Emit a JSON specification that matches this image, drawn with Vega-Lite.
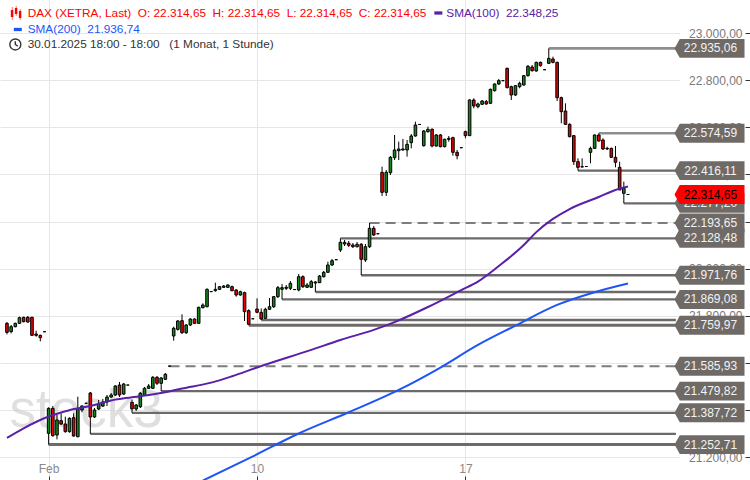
{
  "$schema": "https://vega.github.io/schema/vega-lite/v6.json",
  "width": 680,
  "height": 480,
  "autosize": {"type": "none"},
  "padding": {"left": 0, "top": 0, "right": 70, "bottom": 0},
  "background": "white",
  "config": {
    "view": {"stroke": null},
    "font": "Liberation Sans",
    "locale": {"number": {"decimal": ",", "thousands": ".", "grouping": [3], "currency": ["", " €"]}}
  },
  "resolve": {"axis": {"x": "independent", "y": "independent"}},
  "datasets": {
    "candles": [
      {"i":0,"o":21767.6,"h":21773.3,"l":21720.9,"c":21729.4},
      {"i":1,"o":21732.3,"h":21760.6,"l":21725.2,"c":21753.5},
      {"i":2,"o":21753.5,"h":21770.5,"l":21750.7,"c":21767.6},
      {"i":3,"o":21767.6,"h":21795.9,"l":21764.8,"c":21791.7},
      {"i":4,"o":21793.1,"h":21795.9,"l":21771.9,"c":21774.7},
      {"i":5,"o":21793.1,"h":21798.8,"l":21770.5,"c":21773.3},
      {"i":6,"o":21793.1,"h":21795.9,"l":21713.8,"c":21716.7},
      {"i":7,"o":21722.3,"h":21736.5,"l":21711,"c":21716.7},
      {"i":8,"o":21716.7,"h":21719.5,"l":21691.2,"c":21706.8},
      {"i":9,"o":21732.05,"h":21732.05,"l":21732.05,"c":21732.05},
      {"i":10,"o":21300.6,"h":21411,"l":21252.71,"c":21406.7},
      {"i":11,"o":21406.7,"h":21416.6,"l":21286.4,"c":21290.7},
      {"i":12,"o":21293.5,"h":21378.4,"l":21275.1,"c":21357.2},
      {"i":13,"o":21354.4,"h":21385.5,"l":21336,"c":21340.2},
      {"i":14,"o":21340.2,"h":21371.3,"l":21303.4,"c":21307.7},
      {"i":15,"o":21307.7,"h":21368.5,"l":21303.4,"c":21364.3},
      {"i":16,"o":21367.1,"h":21385.5,"l":21286.4,"c":21289.3},
      {"i":17,"o":21286.4,"h":21456.3,"l":21283.6,"c":21406.7},
      {"i":18,"o":21399.7,"h":21420,"l":21390,"c":21416.7},
      {"i":19,"o":21428.24,"h":21428.24,"l":21428.24,"c":21428.24},
      {"i":20,"o":21471.9,"h":21476.2,"l":21298,"c":21370},
      {"i":21,"o":21370,"h":21408.2,"l":21365.8,"c":21399.7},
      {"i":22,"o":21404,"h":21442.2,"l":21399.7,"c":21425.2},
      {"i":23,"o":21416.7,"h":21446.4,"l":21412.5,"c":21433.7},
      {"i":24,"o":21433.7,"h":21463.4,"l":21416.7,"c":21454.9},
      {"i":25,"o":21454.9,"h":21471.9,"l":21450.7,"c":21463.4},
      {"i":26,"o":21463.4,"h":21505.8,"l":21459.2,"c":21501.6},
      {"i":27,"o":21505.8,"h":21518.6,"l":21454.9,"c":21463.4},
      {"i":28,"o":21467.6,"h":21514.3,"l":21463.4,"c":21510.1},
      {"i":29,"o":21505.61,"h":21505.61,"l":21505.61,"c":21505.61},
      {"i":30,"o":21432.3,"h":21443.7,"l":21387.72,"c":21404.3},
      {"i":31,"o":21404,"h":21425.2,"l":21395.5,"c":21421},
      {"i":32,"o":21413.7,"h":21476.2,"l":21408.2,"c":21470.6},
      {"i":33,"o":21463.4,"h":21497.3,"l":21459.2,"c":21491.8},
      {"i":34,"o":21491.8,"h":21510.1,"l":21488.8,"c":21501.6},
      {"i":35,"o":21491.8,"h":21544,"l":21488.8,"c":21538.5},
      {"i":36,"o":21538.5,"h":21544,"l":21505.8,"c":21513},
      {"i":37,"o":21513,"h":21539.9,"l":21479.82,"c":21535.6},
      {"i":38,"o":21530,"h":21556.8,"l":21527.3,"c":21551.3},
      {"i":39,"o":21585.93,"h":21585.93,"l":21585.93,"c":21585.93},
      {"i":40,"o":21714,"h":21753.5,"l":21694,"c":21746.5},
      {"i":41,"o":21742.2,"h":21781.8,"l":21736.6,"c":21777.6},
      {"i":42,"o":21779,"h":21806,"l":21722.4,"c":21728},
      {"i":43,"o":21728,"h":21764.9,"l":21722.4,"c":21760.6},
      {"i":44,"o":21760.6,"h":21789,"l":21756,"c":21786},
      {"i":45,"o":21786,"h":21789,"l":21764.9,"c":21767.7},
      {"i":46,"o":21767.7,"h":21838.4,"l":21764.9,"c":21835.6},
      {"i":47,"o":21834,"h":21852.6,"l":21831.4,"c":21845.5},
      {"i":48,"o":21838.4,"h":21916.3,"l":21835.6,"c":21912},
      {"i":49,"o":21902.42,"h":21902.42,"l":21902.42,"c":21902.42},
      {"i":50,"o":21906.4,"h":21940.3,"l":21902.1,"c":21912},
      {"i":51,"o":21912,"h":21926,"l":21909,"c":21923.3},
      {"i":52,"o":21920.5,"h":21930.4,"l":21917.7,"c":21926},
      {"i":53,"o":21920.5,"h":21933.3,"l":21917.7,"c":21930.4},
      {"i":54,"o":21923.3,"h":21927.6,"l":21903.5,"c":21906.4},
      {"i":55,"o":21909,"h":21913.5,"l":21880.9,"c":21888},
      {"i":56,"o":21888,"h":21906.4,"l":21885,"c":21902},
      {"i":57,"o":21897.9,"h":21902.1,"l":21777.6,"c":21817.2},
      {"i":58,"o":21821.5,"h":21827.1,"l":21759.97,"c":21763.4},
      {"i":59,"o":21787,"h":21787,"l":21787,"c":21787},
      {"i":60,"o":21828.6,"h":21873.9,"l":21810.3,"c":21814.5},
      {"i":61,"o":21814.5,"h":21831.5,"l":21782,"c":21786},
      {"i":62,"o":21789,"h":21834,"l":21786,"c":21827.3},
      {"i":63,"o":21827.3,"h":21875.2,"l":21824.2,"c":21838.3},
      {"i":64,"o":21838.3,"h":21883.7,"l":21832.8,"c":21880.8},
      {"i":65,"o":21880.8,"h":21926.2,"l":21875.2,"c":21919},
      {"i":66,"o":21912.2,"h":21934.7,"l":21869.08,"c":21919},
      {"i":67,"o":21916.4,"h":21930.4,"l":21909.2,"c":21920.7},
      {"i":68,"o":21916.4,"h":21947.4,"l":21909.2,"c":21937.6},
      {"i":69,"o":21911,"h":21911,"l":21911,"c":21911},
      {"i":70,"o":21909.2,"h":21977.1,"l":21903.7,"c":21965.7},
      {"i":71,"o":21965.7,"h":21971.5,"l":21917.7,"c":21923.3},
      {"i":72,"o":21920.7,"h":21938.9,"l":21917.7,"c":21930.4},
      {"i":73,"o":21920.7,"h":21951.7,"l":21917.7,"c":21944.4},
      {"i":74,"o":21938.9,"h":21947.4,"l":21900.7,"c":21943.1},
      {"i":75,"o":21940.2,"h":21972.8,"l":21938.9,"c":21968.6},
      {"i":76,"o":21965.7,"h":21989.9,"l":21962.3,"c":21984.4},
      {"i":77,"o":21984.4,"h":22029.4,"l":21981.4,"c":22015.4},
      {"i":78,"o":22015.4,"h":22040.8,"l":22011.1,"c":22033.6},
      {"i":79,"o":22037.83,"h":22037.83,"l":22037.83,"c":22037.83},
      {"i":80,"o":22079,"h":22128.48,"l":22070.6,"c":22111.7},
      {"i":81,"o":22104.5,"h":22121.5,"l":22096,"c":22111.7},
      {"i":82,"o":22107.5,"h":22117.2,"l":22091.8,"c":22099},
      {"i":83,"o":22100.3,"h":22108.8,"l":22087.5,"c":22093.1},
      {"i":84,"o":22093.1,"h":22113,"l":22089.6,"c":22103.2},
      {"i":85,"o":22103.2,"h":22108.8,"l":21971.76,"c":22039.6},
      {"i":86,"o":22036.6,"h":22104.5,"l":22028.1,"c":22093.1},
      {"i":87,"o":22093.1,"h":22193.65,"l":22087.5,"c":22171.2},
      {"i":88,"o":22171.2,"h":22181,"l":22138.5,"c":22142.7},
      {"i":89,"o":22148.03,"h":22148.03,"l":22148.03,"c":22148.03},
      {"i":90,"o":22408.8,"h":22432.9,"l":22308.4,"c":22323.9},
      {"i":91,"o":22323.9,"h":22418.8,"l":22308.4,"c":22408.8},
      {"i":92,"o":22407.4,"h":22478.2,"l":22397.5,"c":22472.5},
      {"i":93,"o":22471.1,"h":22567.4,"l":22461.2,"c":22503.7},
      {"i":94,"o":22500.8,"h":22539,"l":22461.2,"c":22507.9},
      {"i":95,"o":22503.7,"h":22550.4,"l":22500.8,"c":22507.9},
      {"i":96,"o":22503.7,"h":22546.1,"l":22475.4,"c":22527.7},
      {"i":97,"o":22534.8,"h":22571.6,"l":22510.7,"c":22563.1},
      {"i":98,"o":22563.1,"h":22624,"l":22560.3,"c":22609.8},
      {"i":99,"o":22612.02,"h":22612.02,"l":22612.02,"c":22612.02},
      {"i":100,"o":22522.1,"h":22588.6,"l":22517.8,"c":22584.3},
      {"i":101,"o":22581.5,"h":22602.7,"l":22577.3,"c":22591.4},
      {"i":102,"o":22591.4,"h":22595.7,"l":22515,"c":22520.6},
      {"i":103,"o":22520.6,"h":22571.6,"l":22517.8,"c":22567.4},
      {"i":104,"o":22567.4,"h":22571.6,"l":22515,"c":22517.8},
      {"i":105,"o":22517.8,"h":22551.8,"l":22515,"c":22549},
      {"i":106,"o":22549,"h":22563.1,"l":22539,"c":22553.2},
      {"i":107,"o":22556,"h":22560.3,"l":22479.6,"c":22493.8},
      {"i":108,"o":22493.8,"h":22503.7,"l":22464.1,"c":22479.6},
      {"i":109,"o":22513.42,"h":22513.42,"l":22513.42,"c":22513.42},
      {"i":110,"o":22581.5,"h":22585.8,"l":22553.2,"c":22564.5},
      {"i":111,"o":22564.5,"h":22718.8,"l":22563.1,"c":22716},
      {"i":112,"o":22716,"h":22723.1,"l":22680.6,"c":22690.5},
      {"i":113,"o":22687.7,"h":22704.6,"l":22680.6,"c":22699},
      {"i":114,"o":22697.6,"h":22716,"l":22694.7,"c":22711.7},
      {"i":115,"o":22708.9,"h":22716,"l":22694.7,"c":22699},
      {"i":116,"o":22701.8,"h":22764.1,"l":22699,"c":22761.3},
      {"i":117,"o":22755.6,"h":22786.7,"l":22751.3,"c":22783.9},
      {"i":118,"o":22783.9,"h":22805.1,"l":22779.7,"c":22798.1},
      {"i":119,"o":22798.04,"h":22798.04,"l":22798.04,"c":22798.04},
      {"i":120,"o":22850.4,"h":22853.2,"l":22765.5,"c":22768.3},
      {"i":121,"o":22772.5,"h":22776.8,"l":22715.9,"c":22737.2},
      {"i":122,"o":22737.2,"h":22779.6,"l":22732.9,"c":22776.8},
      {"i":123,"o":22772.5,"h":22793.8,"l":22765.5,"c":22786.7},
      {"i":124,"o":22779.6,"h":22822.1,"l":22776.8,"c":22819.2},
      {"i":125,"o":22819.2,"h":22864.5,"l":22815,"c":22858.9},
      {"i":126,"o":22856,"h":22864.5,"l":22836.2,"c":22840.5},
      {"i":127,"o":22839,"h":22878.7,"l":22836.2,"c":22875.8},
      {"i":128,"o":22875.8,"h":22878.7,"l":22857.4,"c":22861.7},
      {"i":129,"o":22844.49,"h":22844.49,"l":22844.49,"c":22844.49},
      {"i":130,"o":22871.6,"h":22935.06,"l":22868.8,"c":22892.8},
      {"i":131,"o":22890,"h":22899.9,"l":22871.6,"c":22875.8},
      {"i":132,"o":22875.8,"h":22878.7,"l":22711.7,"c":22725.8},
      {"i":133,"o":22725.8,"h":22730.1,"l":22616.9,"c":22666.4},
      {"i":134,"o":22669.2,"h":22701.8,"l":22609.8,"c":22612.6},
      {"i":135,"o":22612.6,"h":22616.9,"l":22557.4,"c":22560.2},
      {"i":136,"o":22564.5,"h":22567.3,"l":22439.9,"c":22454.1},
      {"i":137,"o":22454.1,"h":22468.2,"l":22416.11,"c":22430},
      {"i":138,"o":22432.9,"h":22468.2,"l":22430,"c":22431.4},
      {"i":139,"o":22433.63,"h":22433.63,"l":22433.63,"c":22433.63},
      {"i":140,"o":22493.7,"h":22517.8,"l":22447,"c":22510.7},
      {"i":141,"o":22510.7,"h":22570.1,"l":22507.9,"c":22567.3},
      {"i":142,"o":22567.3,"h":22574.59,"l":22539,"c":22541.8},
      {"i":143,"o":22546.1,"h":22553.2,"l":22503.6,"c":22507.9},
      {"i":144,"o":22510.7,"h":22517.8,"l":22503.6,"c":22507.9},
      {"i":145,"o":22510.7,"h":22513.5,"l":22471.1,"c":22472.5},
      {"i":146,"o":22472.5,"h":22520.6,"l":22430,"c":22451.3},
      {"i":147,"o":22430,"h":22454.1,"l":22333.8,"c":22333.8},
      {"i":148,"o":22319.6,"h":22369.2,"l":22277.2,"c":22340.9},
      {"i":149,"o":22314.65,"h":22314.65,"l":22314.65,"c":22314.65}
    ],
    "sma100": [
      {"i":0,"v":21281},{"i":4,"v":21322},{"i":10,"v":21372},{"i":15,"v":21399},
      {"i":20,"v":21417},{"i":25,"v":21440},{"i":30,"v":21454},{"i":37,"v":21472},
      {"i":42,"v":21491},{"i":49,"v":21516},{"i":54,"v":21543},{"i":60,"v":21580},
      {"i":73,"v":21655},{"i":80,"v":21697},{"i":88,"v":21740},{"i":93,"v":21773},
      {"i":101,"v":21837},{"i":109,"v":21909},{"i":113,"v":21945},{"i":118,"v":22011},
      {"i":124,"v":22100},{"i":127,"v":22155},{"i":131,"v":22211},{"i":135,"v":22253},
      {"i":142,"v":22304},{"i":146,"v":22334},{"i":149,"v":22348.25}
    ],
    "sma200": [
      {"i":47,"v":21100},{"i":59,"v":21203},{"i":70,"v":21300},{"i":82,"v":21390},
      {"i":94,"v":21485},{"i":104,"v":21580},{"i":113,"v":21676},{"i":122,"v":21758},
      {"i":132,"v":21846},{"i":141,"v":21900},{"i":149,"v":21936.74}
    ],
    "levels": [
      {"value":22935.06,"from":130,"kind":"medium","tag":"yes"},
      {"value":22574.59,"from":142,"kind":"medium","tag":"yes"},
      {"value":22416.11,"from":137,"kind":"thin","tag":"yes"},
      {"value":22277.2,"from":148,"kind":"thin","tag":"yes"},
      {"value":22193.65,"from":87,"kind":"dashed","tag":"yes"},
      {"value":22128.48,"from":80,"kind":"thin","tag":"yes"},
      {"value":21971.76,"from":85,"kind":"thin","tag":"yes"},
      {"value":21900.7,"from":74,"kind":"thin","tag":"no"},
      {"value":21869.08,"from":66,"kind":"thin","tag":"yes"},
      {"value":21782,"from":61,"kind":"thin","tag":"no"},
      {"value":21759.97,"from":58,"kind":"thick","tag":"yes"},
      {"value":21585.93,"from":39,"kind":"dashed","tag":"yes"},
      {"value":21479.82,"from":37,"kind":"thin","tag":"yes"},
      {"value":21387.72,"from":30,"kind":"thin","tag":"yes"},
      {"value":21298,"from":20,"kind":"thin","tag":"no"},
      {"value":21252.71,"from":10,"kind":"thick","tag":"yes"}
    ],
    "header": [
      {"part":"title","text":"DAX (XETRA, Last)\u00a0\u00a0O: 22.314,65\u00a0\u00a0H: 22.314,65\u00a0\u00a0L: 22.314,65\u00a0\u00a0C: 22.314,65"},
      {"part":"sma100","text":"SMA(100)\u00a0\u00a022.348,25"},
      {"part":"sma200","text":"SMA(200)\u00a0\u00a021.936,74"},
      {"part":"period","text":"30.01.2025 18:00 - 18:00\u00a0\u00a0\u00a0(1 Monat, 1 Stunde)"},
      {"part":"mark","text":"stock3"}
    ]
  },
  "layer": [
    {
      "data": {"name": "header"},
      "transform": [{"filter": "datum.part === 'mark'"}],
      "mark": {"type": "text", "align": "left", "baseline": "alphabetic", "fontSize": 53, "fill": "#d2d2d2", "opacity": 0.7},
      "encoding": {
        "x": {"datum": 0.6, "type": "quantitative", "scale": {"domain": [-0.47, 160.28], "nice": false, "zero": false}, "axis": null},
        "y": {"datum": 21327.5, "type": "quantitative", "scale": {"domain": [21102.5, 23140.5], "nice": false, "zero": false}, "axis": null},
        "text": {"field": "text"}
      }
    },
    {
      "data": {"name": "levels"},
      "mark": {"type": "rule"},
      "encoding": {
        "x": {"field": "from", "type": "quantitative", "scale": {"domain": [-0.47, 160.28], "nice": false, "zero": false},
          "axis": {"values": [10, 60, 110], "labelExpr": "datum.value == 10 ? 'Feb' : datum.value == 60 ? '10' : '17'", "grid": true, "gridColor": "#e6e6e6", "domain": false, "ticks": false, "tickSize": 0, "labelPadding": -17, "labelBaseline": "top", "labelAlign": "center", "labelColor": "#8a8a8a", "labelFontSize": 12, "labelFont": "Liberation Sans", "labelFlush": false, "title": null, "zindex": 0}},
        "x2": {"datum": 160.5},
        "y": {"field": "value", "type": "quantitative", "scale": {"domain": [21102.5, 23140.5], "nice": false, "zero": false},
          "axis": {"orient": "right", "values": [21200, 21400, 21600, 21800, 22000, 22200, 22400, 22600, 22800, 23000], "format": ",.2f", "grid": true, "gridColor": "#e6e6e6", "domain": false, "ticks": false, "tickSize": 0, "labelPadding": 62, "labelAlign": "right", "labelColor": "#7a7a7a", "labelFontSize": 12, "labelFont": "Liberation Sans", "title": null, "zindex": 0}},
        "strokeWidth": {"field": "kind", "type": "nominal", "scale": {"domain": ["thick", "medium", "thin", "dashed"], "range": [3, 2, 1, 3]}, "legend": null},
        "stroke": {"field": "kind", "type": "nominal", "scale": {"domain": ["thick", "medium", "thin", "dashed"], "range": ["#6f6a66", "#8e8e8e", "#6a6a6a", "#7d7d7d"]}, "legend": null},
        "strokeDash": {"field": "kind", "type": "nominal", "scale": {"domain": ["thick", "medium", "thin", "dashed"], "range": [[1, 0], [1, 0], [1, 0], [10, 6]]}, "legend": null}
      }
    },
    {
      "data": {"name": "candles"},
      "mark": {"type": "rule", "stroke": "#000000", "strokeWidth": 1},
      "encoding": {
        "x": {"field": "i", "type": "quantitative", "scale": {"domain": [-0.47, 160.28], "nice": false, "zero": false},
          "axis": {"orient": "top", "offset": -480, "values": [10, 60, 110], "labels": false, "grid": false, "domain": false, "ticks": true, "tickSize": 4, "tickColor": "#333333", "tickWidth": 1, "title": null, "zindex": 0}},
        "y": {"field": "l", "type": "quantitative", "scale": {"domain": [21102.5, 23140.5], "nice": false, "zero": false},
          "axis": {"orient": "left", "offset": -750, "values": [21200, 21400, 21600, 21800, 22000, 22200, 22400, 22600, 22800, 23000], "labels": false, "grid": false, "domain": false, "ticks": true, "tickSize": 5, "tickColor": "#333333", "tickWidth": 1, "title": null, "zindex": 0}},
        "y2": {"field": "h"}
      }
    },
    {
      "data": {"name": "candles"},
      "mark": {"type": "bar", "width": 2.6, "stroke": "#000000", "strokeWidth": 1},
      "encoding": {
        "x": {"field": "i", "type": "quantitative", "scale": {"domain": [-0.47, 160.28], "nice": false, "zero": false}, "axis": null},
        "y": {"field": "o", "type": "quantitative", "scale": {"domain": [21102.5, 23140.5], "nice": false, "zero": false}, "axis": null},
        "y2": {"field": "c"},
        "fill": {"condition": {"test": "datum.c > datum.o", "value": "#12861a"}, "value": "#e60000"}
      }
    },
    {
      "data": {"name": "sma200"},
      "mark": {"type": "line", "stroke": "#1f55f5", "strokeWidth": 2, "interpolate": "monotone", "clip": true},
      "encoding": {
        "x": {"field": "i", "type": "quantitative", "scale": {"domain": [-0.47, 160.28], "nice": false, "zero": false}, "axis": null},
        "y": {"field": "v", "type": "quantitative", "scale": {"domain": [21102.5, 23140.5], "nice": false, "zero": false}, "axis": null}
      }
    },
    {
      "data": {"name": "sma100"},
      "mark": {"type": "line", "stroke": "#5a20a8", "strokeWidth": 2, "interpolate": "monotone", "clip": true},
      "encoding": {
        "x": {"field": "i", "type": "quantitative", "scale": {"domain": [-0.47, 160.28], "nice": false, "zero": false}, "axis": null},
        "y": {"field": "v", "type": "quantitative", "scale": {"domain": [21102.5, 23140.5], "nice": false, "zero": false}, "axis": null}
      }
    },
    {
      "data": {"name": "levels"},
      "transform": [{"filter": "datum.tag === 'yes'"}],
      "mark": {"type": "point", "shape": "M-1,0L-0.85,-0.271L1,-0.271L1,0.271L-0.85,0.271Z", "filled": true, "size": 4900, "fill": "#6f6a66", "opacity": 1, "strokeWidth": 0, "clip": false},
      "encoding": {
        "x": {"datum": 168.56, "type": "quantitative", "scale": {"domain": [-0.47, 160.28], "nice": false, "zero": false}, "axis": null},
        "y": {"field": "value", "type": "quantitative", "scale": {"domain": [21102.5, 23140.5], "nice": false, "zero": false}, "axis": null}
      }
    },
    {
      "data": {"name": "levels"},
      "transform": [{"filter": "datum.tag === 'yes'"}],
      "mark": {"type": "text", "align": "center", "baseline": "middle", "fontSize": 12, "fill": "#f2f2f2", "clip": false},
      "encoding": {
        "x": {"datum": 168.8, "type": "quantitative", "scale": {"domain": [-0.47, 160.28], "nice": false, "zero": false}, "axis": null},
        "y": {"field": "value", "type": "quantitative", "scale": {"domain": [21102.5, 23140.5], "nice": false, "zero": false}, "axis": null},
        "text": {"field": "value", "type": "quantitative", "format": ",.2f"}
      }
    },
    {
      "data": {"name": "candles"},
      "transform": [{"filter": "datum.i === 149"}],
      "mark": {"type": "point", "shape": "M-1,0L-0.85,-0.271L1,-0.271L1,0.271L-0.85,0.271Z", "filled": true, "size": 4900, "fill": "#ff0000", "opacity": 1, "strokeWidth": 0, "clip": false},
      "encoding": {
        "x": {"datum": 168.56, "type": "quantitative", "scale": {"domain": [-0.47, 160.28], "nice": false, "zero": false}, "axis": null},
        "y": {"field": "c", "type": "quantitative", "scale": {"domain": [21102.5, 23140.5], "nice": false, "zero": false}, "axis": null}
      }
    },
    {
      "data": {"name": "candles"},
      "transform": [{"filter": "datum.i === 149"}],
      "mark": {"type": "text", "align": "center", "baseline": "middle", "fontSize": 12, "fill": "#000000", "clip": false},
      "encoding": {
        "x": {"datum": 168.8, "type": "quantitative", "scale": {"domain": [-0.47, 160.28], "nice": false, "zero": false}, "axis": null},
        "y": {"field": "c", "type": "quantitative", "scale": {"domain": [21102.5, 23140.5], "nice": false, "zero": false}, "axis": null},
        "text": {"field": "c", "type": "quantitative", "format": ",.2f"}
      }
    },
    {
      "data": {"name": "header"},
      "transform": [{"filter": "datum.part === 'title'"}],
      "mark": {"type": "point", "shape": "M-0.79,-0.43H-0.43V0.57H-0.79Z M-0.64,-0.86H-0.56V1H-0.64Z M-0.21,-0.71H0.14V0.14H-0.21Z M-0.07,-1H0.01V0.43H-0.07Z M0.36,-0.29H0.71V0.71H0.36Z M0.5,-0.57H0.58V1H0.5Z", "filled": true, "size": 196, "fill": "#ff0000", "opacity": 1, "strokeWidth": 0},
      "encoding": {
        "x": {"datum": 2.25, "type": "quantitative", "scale": {"domain": [-0.47, 160.28], "nice": false, "zero": false}, "axis": null},
        "y": {"datum": 23085.3, "type": "quantitative", "scale": {"domain": [21102.5, 23140.5], "nice": false, "zero": false}, "axis": null}
      }
    },
    {
      "data": {"name": "header"},
      "transform": [{"filter": "datum.part === 'title'"}],
      "mark": {"type": "text", "align": "left", "baseline": "middle", "fontSize": 11.8, "fill": "#ff0000"},
      "encoding": {
        "x": {"datum": 4.97, "type": "quantitative", "scale": {"domain": [-0.47, 160.28], "nice": false, "zero": false}, "axis": null},
        "y": {"datum": 23085.3, "type": "quantitative", "scale": {"domain": [21102.5, 23140.5], "nice": false, "zero": false}, "axis": null},
        "text": {"field": "text"}
      }
    },
    {
      "data": {"name": "header"},
      "transform": [{"filter": "datum.part === 'sma100'"}],
      "mark": {"type": "point", "shape": "M-1,-0.41H1V0.41H-1Z", "filled": true, "size": 64, "fill": "#5a20a8", "opacity": 1, "strokeWidth": 0},
      "encoding": {
        "x": {"datum": 103.5, "type": "quantitative", "scale": {"domain": [-0.47, 160.28], "nice": false, "zero": false}, "axis": null},
        "y": {"datum": 23085.3, "type": "quantitative", "scale": {"domain": [21102.5, 23140.5], "nice": false, "zero": false}, "axis": null}
      }
    },
    {
      "data": {"name": "header"},
      "transform": [{"filter": "datum.part === 'sma100'"}],
      "mark": {"type": "text", "align": "left", "baseline": "middle", "fontSize": 11.8, "fill": "#5a20a8"},
      "encoding": {
        "x": {"datum": 105.4, "type": "quantitative", "scale": {"domain": [-0.47, 160.28], "nice": false, "zero": false}, "axis": null},
        "y": {"datum": 23085.3, "type": "quantitative", "scale": {"domain": [21102.5, 23140.5], "nice": false, "zero": false}, "axis": null},
        "text": {"field": "text"}
      }
    },
    {
      "data": {"name": "header"},
      "transform": [{"filter": "datum.part === 'sma200'"}],
      "mark": {"type": "point", "shape": "M-1,-0.41H1V0.41H-1Z", "filled": true, "size": 64, "fill": "#1f55f5", "opacity": 1, "strokeWidth": 0},
      "encoding": {
        "x": {"datum": 2.6, "type": "quantitative", "scale": {"domain": [-0.47, 160.28], "nice": false, "zero": false}, "axis": null},
        "y": {"datum": 23015.3, "type": "quantitative", "scale": {"domain": [21102.5, 23140.5], "nice": false, "zero": false}, "axis": null}
      }
    },
    {
      "data": {"name": "header"},
      "transform": [{"filter": "datum.part === 'sma200'"}],
      "mark": {"type": "text", "align": "left", "baseline": "middle", "fontSize": 11.8, "fill": "#1f55f5"},
      "encoding": {
        "x": {"datum": 4.97, "type": "quantitative", "scale": {"domain": [-0.47, 160.28], "nice": false, "zero": false}, "axis": null},
        "y": {"datum": 23017.4, "type": "quantitative", "scale": {"domain": [21102.5, 23140.5], "nice": false, "zero": false}, "axis": null},
        "text": {"field": "text"}
      }
    },
    {
      "data": {"name": "header"},
      "transform": [{"filter": "datum.part === 'period'"}],
      "mark": {"type": "point", "shape": "M-1,0A1,1 0 1,0 1,0A1,1 0 1,0 -1,0M0,-0.6L0,0L0.45,0.3", "filled": false, "size": 121, "stroke": "#333333", "strokeWidth": 1.4, "opacity": 1},
      "encoding": {
        "x": {"datum": 2.01, "type": "quantitative", "scale": {"domain": [-0.47, 160.28], "nice": false, "zero": false}, "axis": null},
        "y": {"datum": 22951.6, "type": "quantitative", "scale": {"domain": [21102.5, 23140.5], "nice": false, "zero": false}, "axis": null}
      }
    },
    {
      "data": {"name": "header"},
      "transform": [{"filter": "datum.part === 'period'"}],
      "mark": {"type": "text", "align": "left", "baseline": "middle", "fontSize": 11.8, "fill": "#333333"},
      "encoding": {
        "x": {"datum": 4.97, "type": "quantitative", "scale": {"domain": [-0.47, 160.28], "nice": false, "zero": false}, "axis": null},
        "y": {"datum": 22951.6, "type": "quantitative", "scale": {"domain": [21102.5, 23140.5], "nice": false, "zero": false}, "axis": null},
        "text": {"field": "text"}
      }
    }
  ]
}
